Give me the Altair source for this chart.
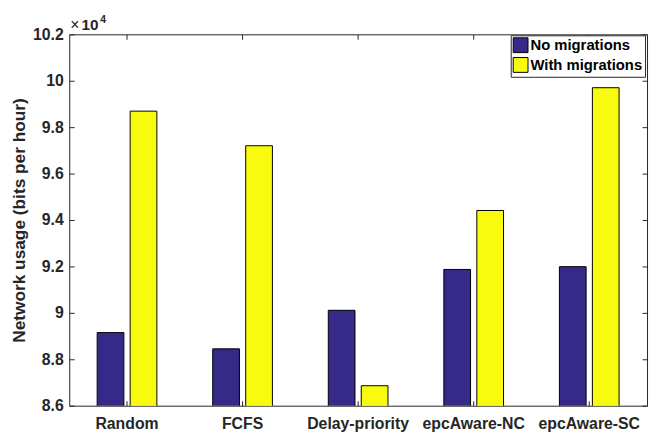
import altair as alt
import pandas as pd

categories = ["Random", "FCFS", "Delay-priority", "epcAware-NC", "epcAware-SC"]
series = ["No migrations", "With migrations"]
no_migrations = [89150, 88450, 90110, 91870, 91990]
with_migrations = [98690, 97200, 86860, 94410, 99700]
colors = ["#352a87", "#f9fb0e"]
y_ticks = [86000, 88000, 90000, 92000, 94000, 96000, 98000, 100000, 102000]

rows = []
for c, a, b in zip(categories, no_migrations, with_migrations):
    rows.append({"algo": c, "series": series[0], "usage": a})
    rows.append({"algo": c, "series": series[1], "usage": b})
df = pd.DataFrame(rows)

FONT = "Liberation Sans"
AX = "#262626"

x_scale = alt.Scale(domain=categories, paddingInner=0, paddingOuter=0)
y_scale = alt.Scale(domain=[86000, 102000], nice=False, zero=False)

base = alt.Chart(df)

bars = base.mark_bar(clip=True, stroke="black", strokeWidth=1).encode(
    x=alt.X(
        "algo:N", scale=x_scale, title=None,
        axis=alt.Axis(orient="bottom", offset=-5, tickSize=5, domain=False,
                      labelAngle=0, labelPadding=10, labelFontSize=16,
                      labelFontWeight="bold"),
    ),
    y=alt.Y(
        "usage:Q", scale=y_scale, title="Network usage (bits per hour)",
        axis=alt.Axis(orient="left", offset=-5, tickSize=5, domain=False,
                      values=y_ticks, labelExpr="datum.value / 10000",
                      labelPadding=6, labelFontSize=16, labelFontWeight="bold",
                      titleFontSize=17.5, titleFontWeight="bold", titlePadding=4),
    ),
    xOffset=alt.XOffset("series:N",
                        scale=alt.Scale(domain=series, paddingInner=0.19, paddingOuter=0.847)),
    color=alt.Color(
        "series:N", scale=alt.Scale(domain=series, range=colors),
        legend=alt.Legend(title=None, orient="none", legendX=447, legendY=1, padding=2,
                          fillColor="white", strokeColor=AX, symbolType="square",
                          symbolSize=225, symbolStrokeColor="black", symbolStrokeWidth=1,
                          symbolOpacity=1, labelFont=FONT, labelFontSize=15,
                          labelFontWeight="bold", labelColor="black", rowPadding=0,
                          labelOffset=2),
    ),
)

frame = base.mark_point(opacity=0).encode(
    x=alt.X("algo:N", scale=x_scale, title=None,
            axis=alt.Axis(orient="top", offset=-5, tickSize=5, domain=False, labels=False)),
    y=alt.Y("usage:Q", scale=y_scale, title=None,
            axis=alt.Axis(orient="right", offset=-5, tickSize=5, domain=False,
                          labels=False, values=y_ticks)),
)

one = alt.Data(values=[{"k": 1}])
t_times = alt.Chart(one).mark_text(text="×", font=FONT, fontSize=16, fontWeight="normal",
                                   align="left", baseline="alphabetic", color=AX).encode(
    x=alt.value(1), y=alt.value(-4.5))
t_ten = alt.Chart(one).mark_text(text="10", font=FONT, fontSize=15.5, fontWeight="bold",
                                 align="left", baseline="alphabetic", color=AX).encode(
    x=alt.value(12.5), y=alt.value(-4.5))
t_exp = alt.Chart(one).mark_text(text="4", font=FONT, fontSize=10.5, fontWeight="bold",
                                 align="left", baseline="alphabetic", color=AX).encode(
    x=alt.value(31.5), y=alt.value(-11.3))

chart = (
    alt.layer(bars, frame, t_times, t_ten, t_exp)
    .resolve_axis(x="independent", y="independent")
    .properties(width=585, height=376,
                padding={"left": 62, "top": 24, "right": 2, "bottom": 26},
                autosize=alt.AutoSizeParams(type="none"))
    .configure_view(stroke=AX, strokeWidth=1)
    .configure_axis(grid=False, labelFont=FONT, titleFont=FONT, tickColor=AX,
                    labelColor=AX, titleColor=AX)
)

chart.save("out.html", embed_options={"renderer": "svg", "actions": False})
